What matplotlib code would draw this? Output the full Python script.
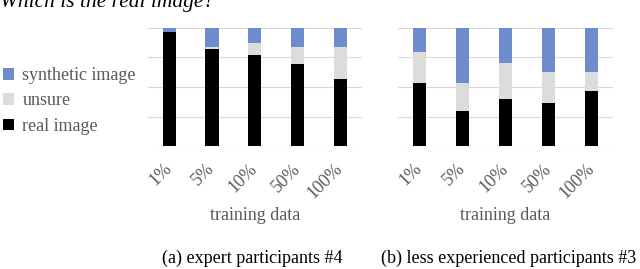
import matplotlib
matplotlib.use("Agg")
import matplotlib.pyplot as plt

plt.rcParams['font.family'] = ['Liberation Serif', 'DejaVu Serif']

# dane (w %)
training = ['1%', '5%', '10%', '50%', '100%']
expert_real = [97, 82, 77, 69.5, 57]
expert_unsure = [0, 2, 10, 14.5, 27]
expert_synth = [3, 16, 13, 16, 16]
novice_real = [53.5, 30, 40, 36.5, 47]
novice_unsure = [26.5, 23, 30, 26.5, 16]
novice_synth = [20, 47, 30, 37, 37]

c_synth = '#6E8BCD'
c_unsure = '#DCDCDC'
c_real = '#000000'
grey = '#595959'

fig = plt.figure(figsize=(6.4, 2.69), dpi=100)
ax1 = fig.add_axes([0.231, 0.457, 0.334, 0.439])
ax2 = fig.add_axes([0.622, 0.457, 0.336, 0.439])


def panel(ax, real, unsure, synth):
    x = range(len(training))
    b_real = ax.bar(x, real, width=0.31, color=c_real, zorder=3)
    bottom2 = [r + u for r, u in zip(real, unsure)]
    b_uns = ax.bar(x, unsure, width=0.31, bottom=real, color=c_unsure, zorder=3)
    b_syn = ax.bar(x, synth, width=0.31, bottom=bottom2, color=c_synth, zorder=3)
    ax.set_ylim(0, 100)
    ax.set_xlim(-0.5, len(training) - 0.5)
    ax.set_yticks([0, 25, 50, 75, 100])
    ax.set_yticklabels([])
    ax.tick_params(left=False, bottom=False)
    ax.grid(axis='y', color='#D9D9D9', linewidth=0.8, zorder=0)
    for s in ax.spines.values():
        s.set_visible(False)
    ax.set_xticks(list(x))
    ax.set_xticklabels(training, rotation=45, ha='right', va='center',
                       rotation_mode='anchor', fontsize=13, color=grey)
    ax.tick_params(axis='x', pad=11)
    ax.set_xlabel('training data', fontsize=13, color=grey, labelpad=4)
    return b_real, b_uns, b_syn


h_real, h_uns, h_syn = panel(ax1, expert_real, expert_unsure, expert_synth)
panel(ax2, novice_real, novice_unsure, novice_synth)

fig.legend([h_syn, h_uns, h_real], ['synthetic image', 'unsure', 'real image'],
           loc='upper left', bbox_to_anchor=(-0.02, 0.81), frameon=False,
           fontsize=13, labelcolor=grey, handlelength=0.6, handleheight=0.6,
           handletextpad=0.45, labelspacing=0.45)

fig.text(0.0, 1 - 7 / 269, 'Which is the real image?', fontsize=15.5, style='italic',
         ha='left', va='baseline')
fig.text(0.394, 0.04, '(a) expert participants #4', fontsize=13, ha='center', va='center')
fig.text(0.794, 0.04, '(b) less experienced participants #3', fontsize=13, ha='center', va='center')

fig.savefig('out.png', dpi=100)
